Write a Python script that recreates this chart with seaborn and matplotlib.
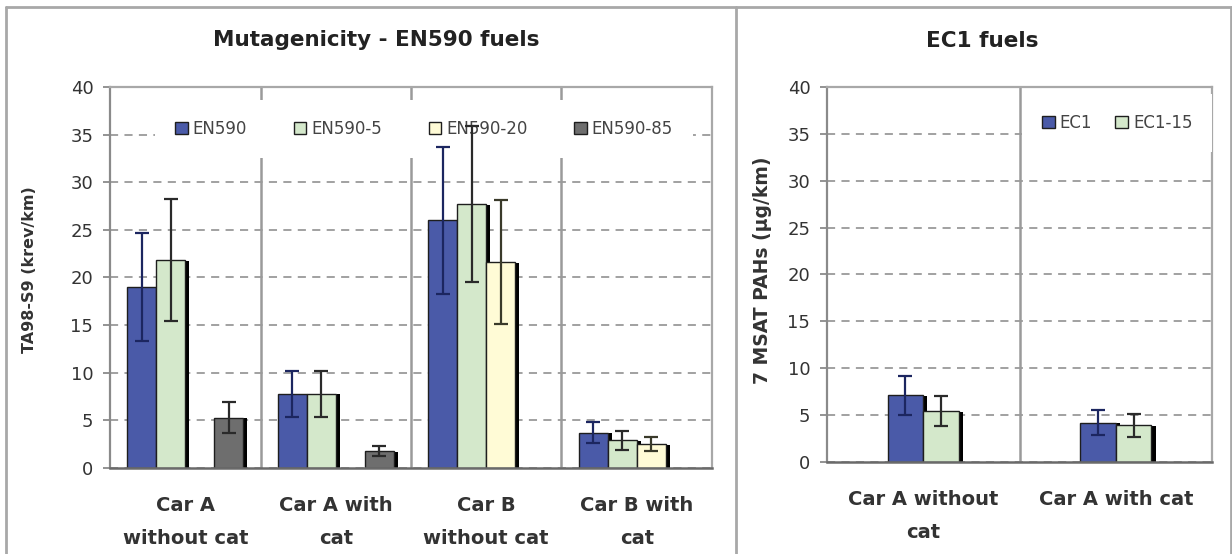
import numpy as np
import pandas as pd
import matplotlib
matplotlib.use("Agg")
import matplotlib.pyplot as plt
import matplotlib.patheffects as pe
from matplotlib.patches import Patch
from matplotlib.lines import Line2D
import seaborn as sns

# ---- Mutagenicity, EN590 fuels ----
cars_en = ["Car A\nwithout cat", "Car A with\ncat", "Car B\nwithout cat", "Car B with\ncat"]
fuels_en = ["EN590", "EN590-5", "EN590-20", "EN590-85"]
en590 = [19.0, 7.8, 26.0, 3.7]
en590_5 = [21.8, 7.8, 27.7, 2.9]
en590_20 = [np.nan, np.nan, 21.6, 2.5]
en590_85 = [5.3, 1.8, np.nan, np.nan]
en590_err = [5.7, 2.4, 7.7, 1.1]
en590_5_err = [6.4, 2.4, 8.2, 1.0]
en590_20_err = [np.nan, np.nan, 6.5, 0.75]
en590_85_err = [1.65, 0.5, np.nan, np.nan]

# ---- 7 MSAT PAHs, EC1 fuels ----
cars_ec = ["Car A without\ncat", "Car A with cat"]
fuels_ec = ["EC1", "EC1-15"]
ec1 = [7.1, 4.2]
ec1_15 = [5.4, 3.9]
ec1_err = [2.1, 1.3]
ec1_15_err = [1.6, 1.2]

colors_en = ["#4A5AA8", "#D4E8CB", "#FFFBD6", "#6E6E6E"]
err_colors_en = ["#1C2660", "#2A2A2A", "#3A3A2A", "#2A2A2A"]
colors_ec = ["#4A5AA8", "#D4E8CB"]
err_colors_ec = ["#1C2660", "#2A2A2A"]


def long_frame(cars, fuels, values, errors):
    rows = []
    for fuel, vals, errs in zip(fuels, values, errors):
        for car, v, e in zip(cars, vals, errs):
            if not np.isnan(v):
                rows.append({"car": car, "fuel": fuel, "value": v, "err": e})
    return pd.DataFrame(rows)


df_en = long_frame(cars_en, fuels_en,
                   [en590, en590_5, en590_20, en590_85],
                   [en590_err, en590_5_err, en590_20_err, en590_85_err])
df_ec = long_frame(cars_ec, fuels_ec, [ec1, ec1_15], [ec1_err, ec1_15_err])

sns.set_style("white")
plt.rcParams["font.family"] = ["DejaVu Sans"]

fig = plt.figure(figsize=(12.32, 5.54), dpi=100)
fig.patch.set_facecolor("white")

ax1 = fig.add_axes([0.0893, 0.1552, 0.4886, 0.688])
ax2 = fig.add_axes([0.6713, 0.1661, 0.3125, 0.6769])

shadow = [pe.SimplePatchShadow(offset=(3, -0.5), shadow_rgbFace="black", alpha=1.0), pe.Normal()]


def draw_panel(ax, df, cars, fuels, colors, err_colors, width):
    sns.barplot(data=df, x="car", y="value", hue="fuel", order=cars, hue_order=fuels,
                palette=colors, saturation=1, width=width, errorbar=None, legend=False,
                edgecolor="#1E1E1E", linewidth=1.0, ax=ax, path_effects=shadow, zorder=2)
    # error bars placed on each drawn bar, above the legend box
    for j, (fuel, cont) in enumerate(zip(fuels, ax.containers)):
        sub = df[df["fuel"] == fuel].set_index("car")
        for bar in cont.patches:
            xc = bar.get_x() + bar.get_width() / 2
            car = cars[int(round(xc))]
            ax.errorbar(xc, sub.loc[car, "value"], yerr=sub.loc[car, "err"], fmt="none",
                        ecolor=err_colors[j], elinewidth=1.6, capsize=5, capthick=1.6,
                        zorder=6)
    ax.set_ylim(0, 40)
    ax.set_xlim(-0.5, len(cars) - 0.5)
    ax.set_yticks(np.arange(0, 41, 5))
    ax.set_axisbelow(True)
    ax.yaxis.grid(True, linestyle=(0, (4.5, 3.5)), color="#9A9A9A", linewidth=1.3)
    ax.xaxis.grid(False)
    for k in range(len(cars) - 1):
        ax.axvline(k + 0.5, color="#9A9A9A", linewidth=1.8, zorder=0.6)
    for side in ["top", "right"]:
        ax.spines[side].set_color("#A8A8A8")
        ax.spines[side].set_linewidth(1.6)
    ax.spines["left"].set_color("#8A8A8A")
    ax.spines["left"].set_linewidth(1.6)
    ax.spines["bottom"].set_color("#6A6A6A")
    ax.spines["bottom"].set_linewidth(1.8)
    ax.tick_params(axis="y", length=5, width=1.3, color="#8A8A8A", pad=7,
                   labelsize=13, labelcolor="#333333", left=True)
    ax.tick_params(axis="x", length=0, pad=20)
    ax.set_xlabel("")
    for lab in ax.get_xticklabels():
        lab.set_fontweight("bold")
        lab.set_fontsize(14)
        lab.set_color("#333333")
        lab.set_linespacing(1.95)
        lab.set_va("top")


draw_panel(ax1, df_en, cars_en, fuels_en, colors_en, err_colors_en, 0.77)
draw_panel(ax2, df_ec, cars_ec, fuels_ec, colors_ec, err_colors_ec, 0.37)

ax1.set_ylabel("TA98-S9 (krev/km)", fontsize=11.5, fontweight="bold", color="#333333")
ax1.yaxis.set_label_coords(-0.121, 0.52)
ax2.set_ylabel("7 MSAT PAHs (µg/km)", fontsize=13.5, fontweight="bold", color="#333333")
ax2.yaxis.set_label_coords(-0.143, 0.51)


def legend_for(ax, fuels, colors, anchor, colspacing):
    handles = [Patch(facecolor=c, edgecolor="#1E1E1E", linewidth=1.0, label=f)
               for f, c in zip(fuels, colors)]
    leg = ax.legend(handles=handles, ncol=len(fuels), loc="center", bbox_to_anchor=anchor,
                    frameon=True, facecolor="white", edgecolor="none", framealpha=1,
                    fontsize=12, handlelength=0.75, handleheight=0.75, handletextpad=0.3,
                    columnspacing=colspacing, borderpad=1.2, fancybox=False)
    for t in leg.get_texts():
        t.set_color("#444444")
    leg.set_zorder(5)
    return leg


legend_for(ax1, fuels_en, colors_en, (0.522, 0.89), 2.8)
legend_for(ax2, fuels_ec, colors_ec, (0.754, 0.905), 1.4)

fig.text(376 / 1232, 1 - 40 / 554, "Mutagenicity - EN590 fuels", ha="center", va="center",
         fontsize=15.5, fontweight="bold", color="#222222")
fig.text(982 / 1232, 1 - 41 / 554, "EC1 fuels", ha="center", va="center",
         fontsize=15.5, fontweight="bold", color="#222222")

# panel frames
frame_kw = dict(transform=fig.transFigure, color="#A8A8A8", linewidth=2.0)
fig.add_artist(Line2D([6 / 1232, 1231 / 1232], [1 - 7 / 554, 1 - 7 / 554], **frame_kw))
fig.add_artist(Line2D([6 / 1232, 6 / 1232], [0, 1 - 7 / 554], **frame_kw))
fig.add_artist(Line2D([736 / 1232, 736 / 1232], [0, 1 - 7 / 554], **frame_kw))
fig.add_artist(Line2D([1231 / 1232, 1231 / 1232], [0, 1 - 7 / 554], **frame_kw))

fig.savefig("out.png", dpi=100, facecolor="white")
